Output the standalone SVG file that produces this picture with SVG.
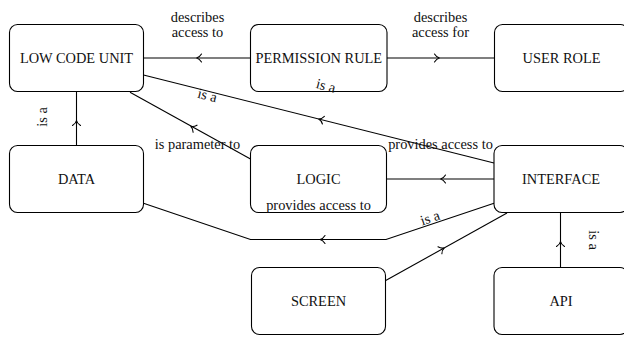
<svg xmlns="http://www.w3.org/2000/svg" xmlns:xlink="http://www.w3.org/1999/xlink" width="624" height="337" viewBox="0 0 624 337" font-family="'Liberation Serif', 'DejaVu Serif', serif">
<style>
  .box { fill: #fff; stroke: #000; stroke-width: 1.1; }
  .t { font-size: 14.4px; fill: #111; text-anchor: middle; }
  .edge { fill: none; stroke: #000; stroke-width: 1.1; }
  .ah { fill: none; stroke: #000; stroke-width: 1.1; stroke-linecap: round; }
</style>
<defs>
  <path id="ah" class="ah" d="M-3.5,-4 C-2,-1.5 0,-0.3 1.5,0 C0,0.3 -2,1.5 -3.5,4"/>
</defs>
<rect width="624" height="337" fill="#fff"/>
<g id="connectors">
  <path class="edge" d="M250.5,58 H143.5"/>
  <use xlink:href="#ah" transform="translate(198,58) rotate(180)"/>
  <path class="edge" d="M387,58 H494"/>
  <use xlink:href="#ah" transform="translate(438,58)"/>
  <path class="edge" d="M76.5,145.5 V91.5"/>
  <use xlink:href="#ah" transform="translate(76.5,122) rotate(-90)"/>
  <path class="edge" d="M250.5,159 L130,92.3"/>
  <use xlink:href="#ah" transform="translate(192,127) rotate(209)"/>
  <path class="edge" d="M494,163 L143.5,75"/>
  <use xlink:href="#ah" transform="translate(320,119.3) rotate(194.1)"/>
  <path class="edge" d="M494,179 H386.5"/>
  <use xlink:href="#ah" transform="translate(442,179) rotate(180)"/>
  <path class="edge" d="M494,203.3 L386,239.5 H250.5 L143.5,203.3"/>
  <use xlink:href="#ah" transform="translate(321.5,239.5) rotate(180)"/>
  <path class="edge" d="M385.7,280.5 L507,213"/>
  <use xlink:href="#ah" transform="translate(443,248.6) rotate(-29.1)"/>
  <path class="edge" d="M560.5,267.5 V212.5"/>
  <use xlink:href="#ah" transform="translate(560.5,243) rotate(-90)"/>
  <text class="t" x="197.5" y="22">describes</text>
  <text class="t" x="197.5" y="37">access to</text>
  <text class="t" x="440.5" y="22">describes</text>
  <text class="t" x="440.5" y="37">access for</text>
  <text class="t" transform="translate(46.5,117) rotate(-90)">is a</text>
  <text class="t" transform="translate(588.5,240) rotate(90)">is a</text>
  <text class="t" x="197.5" y="148.5">is parameter to</text>
  <text class="t" x="440.5" y="148.5">provides access to</text>
  <text class="t" transform="translate(207,96.5) rotate(14.1)" y="3.5">is a</text>
  <text class="t" transform="translate(430.5,219) rotate(-18.5)" y="3.5">is a</text>
</g>
<g id="low-code-unit">
  <rect class="box" x="9.5" y="24.5" width="134" height="67" rx="8"/>
  <text class="t" x="76.5" y="63">LOW CODE UNIT</text>
</g>
<g id="permission-rule">
  <rect class="box" x="250.5" y="24.5" width="136.5" height="67" rx="8"/>
  <text class="t" x="318.75" y="63">PERMISSION RULE</text>
  <text class="t" transform="translate(325.5,87.5) rotate(15)" y="3">is a</text>
</g>
<g id="user-role">
  <rect class="box" x="494.5" y="24.5" width="134" height="67" rx="8"/>
  <text class="t" x="561.5" y="63">USER ROLE</text>
</g>
<g id="data">
  <rect class="box" x="9.5" y="145.5" width="134" height="67" rx="8"/>
  <text class="t" x="76.5" y="184">DATA</text>
</g>
<g id="logic">
  <rect class="box" x="250.5" y="145.5" width="136" height="67" rx="8"/>
  <text class="t" x="318.5" y="184">LOGIC</text>
  <text class="t" x="318.5" y="209.5">provides access to</text>
</g>
<g id="interface">
  <rect class="box" x="494" y="145.5" width="134" height="67" rx="8"/>
  <text class="t" x="561" y="184">INTERFACE</text>
</g>
<g id="screen">
  <rect class="box" x="251.5" y="267.5" width="134" height="67" rx="8"/>
  <text class="t" x="318.5" y="306">SCREEN</text>
</g>
<g id="api">
  <rect class="box" x="494" y="267.5" width="134" height="67" rx="8"/>
  <text class="t" x="561" y="306">API</text>
</g>
</svg>
